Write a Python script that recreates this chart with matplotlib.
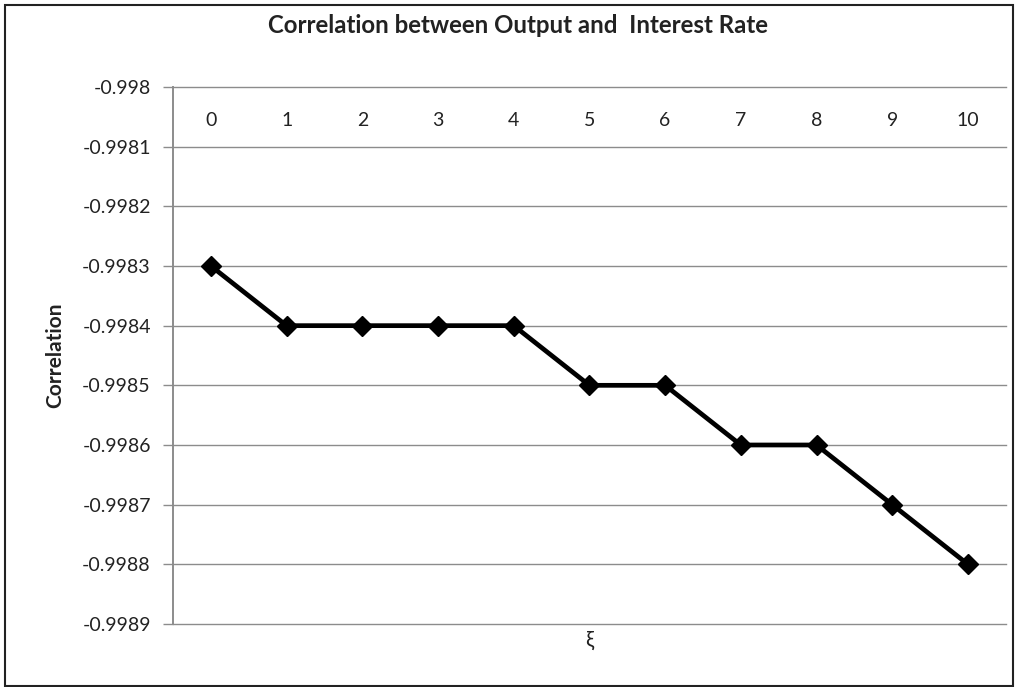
import matplotlib.pyplot as plt
from matplotlib.patches import Rectangle

plt.rcParams['font.family'] = ['Lato', 'DejaVu Sans']

xi = [0, 1, 2, 3, 4, 5, 6, 7, 8, 9, 10]
correlation = [-0.9983, -0.9984, -0.9984, -0.9984, -0.9984,
               -0.9985, -0.9985, -0.9986, -0.9986, -0.9987, -0.9988]
y_ticks = [-0.998, -0.9981, -0.9982, -0.9983, -0.9984,
           -0.9985, -0.9986, -0.9987, -0.9988, -0.9989]
y_labels = ['-0.998', '-0.9981', '-0.9982', '-0.9983', '-0.9984',
            '-0.9985', '-0.9986', '-0.9987', '-0.9988', '-0.9989']

fig = plt.figure(figsize=(10.18, 6.87), dpi=100)
ax = fig.add_axes([0.170, 0.0917, 0.818, 0.7817])

# gridlines as in a spreadsheet chart
grid_col = '#8c8c8c'
ax.set_ylim(-0.9989, -0.998)
ax.set_xlim(-0.5, 10.5)
ax.set_yticks(y_ticks)
ax.set_yticklabels(y_labels)
for gy in y_ticks:
    ax.axhline(gy, color=grid_col, linewidth=1.0, clip_on=False, zorder=1)

ax.plot(xi, correlation, color='black', linewidth=3.4, marker='D',
        markersize=10, markerfacecolor='black', markeredgecolor='black',
        zorder=3)

# category labels sit just under the top edge
ax.set_xticks(xi)
ax.set_xticklabels([str(v) for v in xi])
ax.tick_params(axis='x', top=True, labeltop=True, bottom=False,
               labelbottom=False, length=0, pad=-30, labelsize=14,
               colors='#222222')
ax.tick_params(axis='y', direction='out', length=7, width=1.0,
               color=grid_col, labelsize=14, labelcolor='#222222', pad=9)

for side in ['top', 'right', 'bottom']:
    ax.spines[side].set_visible(False)
ax.spines['left'].set_color(grid_col)
ax.spines['left'].set_linewidth(1.4)

# chart title is centred on the whole figure, not the plot area
fig.text(0.509, 0.963, 'Correlation between Output and  Interest Rate',
         fontsize=17.3, fontweight='bold', color='#222222',
         ha='center', va='center')
ax.set_xlabel('ξ', fontsize=15, color='#222222', labelpad=4)
ax.set_ylabel('Correlation', fontsize=15, fontweight='bold',
              color='#222222', labelpad=12)

# outer chart border
fig.patches.append(Rectangle((0.005, 0.002), 0.990, 0.990,
                             transform=fig.transFigure, fill=False,
                             edgecolor='#222222', linewidth=1.5))

fig.savefig('out.png', dpi=100)
